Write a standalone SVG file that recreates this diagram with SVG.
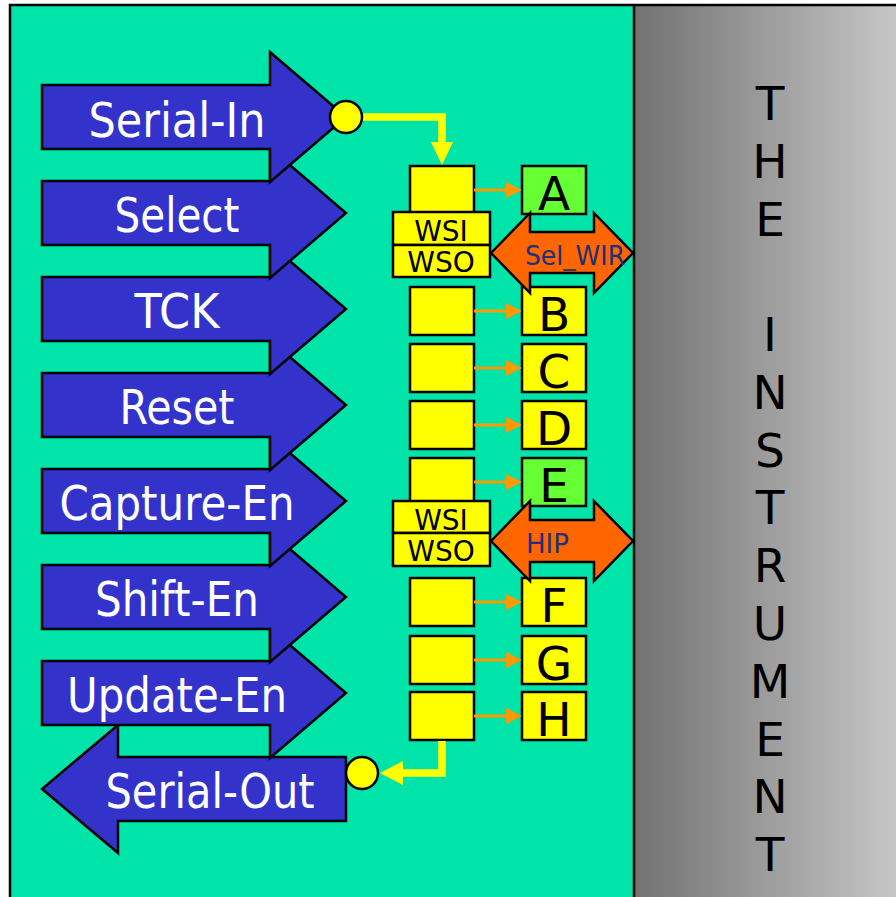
<svg xmlns="http://www.w3.org/2000/svg" width="896" height="897" viewBox="0 0 896 897">
<defs>
<linearGradient id="gray" x1="0" y1="0" x2="1" y2="0">
<stop offset="0" stop-color="#727272"/>
<stop offset="1" stop-color="#C6C6C6"/>
</linearGradient>
<style>
.sig{fill:#3333CC;stroke:#000;stroke-width:2.5;stroke-linejoin:miter}
.lbl{font-family:"DejaVu Sans","Liberation Sans",sans-serif;font-size:48px;fill:#fff;text-anchor:middle}
.reg{fill:#FFFF00;stroke:#000;stroke-width:2.5}
.grn{fill:#66FF33;stroke:#000;stroke-width:2.5}
.ltr{font-family:"DejaVu Sans","Liberation Sans",sans-serif;font-size:47px;fill:#000;text-anchor:middle}
.ws{font-family:"DejaVu Sans","Liberation Sans",sans-serif;font-size:28px;fill:#000;text-anchor:middle}
.dbl{fill:#FF6600;stroke:#000;stroke-width:2.5}
.dlbl{font-family:"DejaVu Sans","Liberation Sans",sans-serif;font-size:26px;fill:#20307A}
.inst{font-family:"DejaVu Sans","Liberation Sans",sans-serif;font-size:47px;fill:#000;text-anchor:middle}
.oline{stroke:#FF9900;stroke-width:3;fill:none}
.ohead{fill:#FF9900}
.yline{stroke:#FFFF00;stroke-width:7.5;fill:none}
.yfill{fill:#FFFF00}
.dot{fill:#FFFF00;stroke:#000;stroke-width:2.5}
</style>
</defs>
<rect x="0" y="0" width="896" height="897" fill="#fff"/>
<rect x="10" y="5" width="624" height="893" fill="#00E4AA"/>
<rect x="634" y="5" width="262" height="893" fill="url(#gray)"/>
<path d="M10,898 V5 H896 M634,5 V898" stroke="#000" stroke-width="2.5" fill="none"/>

<g id="instrument">
<text class="inst" x="770" y="120">T</text>
<text class="inst" x="770" y="178">H</text>
<text class="inst" x="770" y="236">E</text>
<text class="inst" x="770" y="351">I</text>
<text class="inst" x="770" y="409">N</text>
<text class="inst" x="770" y="467">S</text>
<text class="inst" x="770" y="524">T</text>
<text class="inst" x="770" y="582">R</text>
<text class="inst" x="770" y="640">U</text>
<text class="inst" x="770" y="698">M</text>
<text class="inst" x="770" y="756">E</text>
<text class="inst" x="770" y="813">N</text>
<text class="inst" x="770" y="871">T</text>
</g>

<g id="serial-out">
<polygon class="sig" points="346,757 118,757 118,725 42,789 118,853 118,821 346,821"/>
<text class="lbl" x="210" y="808" textLength="209" lengthAdjust="spacingAndGlyphs">Serial-Out</text>
</g>
<g id="update-en">
<polygon class="sig" points="42,661 270,661 270,628 346,693 270,758 270,725 42,725"/>
<text class="lbl" x="177" y="712" textLength="220" lengthAdjust="spacingAndGlyphs">Update-En</text>
</g>
<g id="shift-en">
<polygon class="sig" points="42,565 270,565 270,532 346,597 270,662 270,629 42,629"/>
<text class="lbl" x="177" y="616" textLength="164" lengthAdjust="spacingAndGlyphs">Shift-En</text>
</g>
<g id="capture-en">
<polygon class="sig" points="42,469 270,469 270,436 346,501 270,566 270,533 42,533"/>
<text class="lbl" x="177" y="520" textLength="235" lengthAdjust="spacingAndGlyphs">Capture-En</text>
</g>
<g id="reset">
<polygon class="sig" points="42,373 270,373 270,340 346,405 270,470 270,437 42,437"/>
<text class="lbl" x="177" y="424" textLength="115" lengthAdjust="spacingAndGlyphs">Reset</text>
</g>
<g id="tck">
<polygon class="sig" points="42,277 270,277 270,244 346,309 270,374 270,341 42,341"/>
<text class="lbl" x="177" y="328" textLength="85" lengthAdjust="spacingAndGlyphs">TCK</text>
</g>
<g id="select">
<polygon class="sig" points="42,181 270,181 270,148 346,213 270,278 270,245 42,245"/>
<text class="lbl" x="177" y="232" textLength="125" lengthAdjust="spacingAndGlyphs">Select</text>
</g>
<g id="serial-in">
<polygon class="sig" points="42,85 270,85 270,52 346,117 270,182 270,149 42,149"/>
<text class="lbl" x="177" y="137" textLength="177" lengthAdjust="spacingAndGlyphs">Serial-In</text>
</g>

<g id="reg-a"><rect class="reg" x="410" y="166" width="64" height="48"/></g>
<g id="reg-b"><rect class="reg" x="410" y="287" width="64" height="48"/></g>
<g id="reg-c"><rect class="reg" x="410" y="344" width="64" height="48"/></g>
<g id="reg-d"><rect class="reg" x="410" y="401" width="64" height="48"/></g>
<g id="reg-e"><rect class="reg" x="410" y="458" width="64" height="48"/></g>
<g id="reg-f"><rect class="reg" x="410" y="578" width="64" height="48"/></g>
<g id="reg-g"><rect class="reg" x="410" y="636" width="64" height="48"/></g>
<g id="reg-h"><rect class="reg" x="410" y="692" width="64" height="48"/></g>

<g id="wir1">
<rect class="reg" x="393" y="212" width="97" height="33"/>
<text class="ws" x="441" y="241">WSI</text>
<rect class="reg" x="393" y="245" width="97" height="32"/>
<text class="ws" x="441" y="272">WSO</text>
</g>
<g id="wir2">
<rect class="reg" x="393" y="501" width="97" height="32"/>
<text class="ws" x="441" y="530">WSI</text>
<rect class="reg" x="393" y="533" width="97" height="33"/>
<text class="ws" x="441" y="561">WSO</text>
</g>

<g id="out-a"><rect class="grn" x="522" y="166" width="64" height="48"/><text class="ltr" x="554" y="210">A</text></g>
<g id="out-b"><rect class="reg" x="522" y="287" width="64" height="48"/><text class="ltr" x="554" y="331">B</text></g>
<g id="out-c"><rect class="reg" x="522" y="344" width="64" height="48"/><text class="ltr" x="554" y="388">C</text></g>
<g id="out-d"><rect class="reg" x="522" y="401" width="64" height="48"/><text class="ltr" x="554" y="445">D</text></g>
<g id="out-e"><rect class="grn" x="522" y="458" width="64" height="48"/><text class="ltr" x="554" y="502">E</text></g>
<g id="out-f"><rect class="reg" x="522" y="578" width="64" height="48"/><text class="ltr" x="554" y="622">F</text></g>
<g id="out-g"><rect class="reg" x="522" y="636" width="64" height="48"/><text class="ltr" x="554" y="680">G</text></g>
<g id="out-h"><rect class="reg" x="522" y="692" width="64" height="48"/><text class="ltr" x="554" y="736">H</text></g>

<g id="sel-wir">
<polygon class="dbl" points="491,253 530,213 530,232 594,232 594,213 633,253 594,293 594,273 530,273 530,293"/>
<text class="dlbl" x="525" y="265" textLength="100" lengthAdjust="spacingAndGlyphs">Sel_WIR</text>
</g>
<g id="hip">
<polygon class="dbl" points="491,541 530,501 530,520 594,520 594,501 633,541 594,581 594,562 530,562 530,581"/>
<text class="dlbl" x="526" y="553">HIP</text>
</g>

<g id="connectors">
<path class="oline" d="M474,190 H508"/><polygon class="ohead" points="506,182 506,198 522,190"/>
<path class="oline" d="M474,311 H508"/><polygon class="ohead" points="506,303 506,319 522,311"/>
<path class="oline" d="M474,368 H508"/><polygon class="ohead" points="506,360 506,376 522,368"/>
<path class="oline" d="M474,425 H508"/><polygon class="ohead" points="506,417 506,433 522,425"/>
<path class="oline" d="M474,482 H508"/><polygon class="ohead" points="506,474 506,490 522,482"/>
<path class="oline" d="M474,602 H508"/><polygon class="ohead" points="506,594 506,610 522,602"/>
<path class="oline" d="M474,660 H508"/><polygon class="ohead" points="506,652 506,668 522,660"/>
<path class="oline" d="M474,716 H508"/><polygon class="ohead" points="506,708 506,724 522,716"/>
<path class="yline" d="M346,117 H442 V146"/>
<polygon class="yfill" points="431,142 453,142 442,165"/>
<path class="yline" d="M442,741 V773 H400"/>
<polygon class="yfill" points="403,761 403,785 380,773"/>
<circle class="dot" cx="346" cy="117" r="16"/>
<circle class="dot" cx="362" cy="773" r="16"/>
</g>
</svg>
